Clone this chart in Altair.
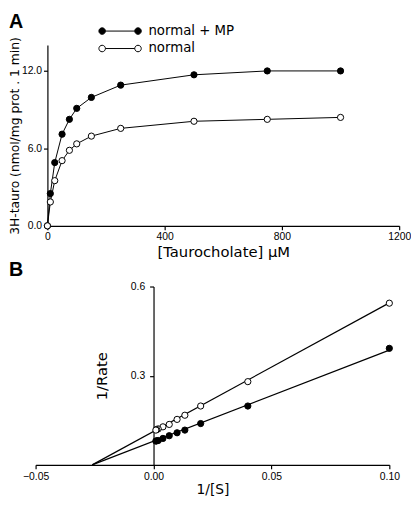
import altair as alt
import pandas as pd

# ---------------- data ----------------
series = ["normal + MP", "normal"]

conc = [0, 10, 25, 50, 75, 100, 150, 250, 500, 750, 1000]
rate_mp = [0.0, 2.5, 4.9, 7.1, 8.25, 9.1, 9.95, 10.9, 11.7, 12.0, 12.0]
rate_normal = [0.0, 1.85, 3.5, 5.05, 5.85, 6.35, 6.95, 7.55, 8.1, 8.25, 8.4]

inv_s = [0.1, 0.04, 0.02, 0.0133, 0.01, 0.00667, 0.004, 0.002, 0.00133, 0.001]
inv_rate_mp = [0.392, 0.198, 0.139, 0.117, 0.108, 0.098, 0.089, 0.082, 0.081, 0.080]
inv_rate_normal = [0.544, 0.28, 0.198, 0.167, 0.153, 0.136, 0.128, 0.121, 0.119, 0.117]

fit_x = [-0.026, 0.10]
fit_mp = [0.0, 0.386]
fit_normal = [0.0, 0.545]

a_x_ticks = [0, 400, 800, 1200]
a_y_ticks = [0, 6, 12]
b_x_ticks = [-0.05, 0.0, 0.05, 0.10]
b_y_ticks = [0.3, 0.6]

# ---------------- tables ----------------
dfA = pd.DataFrame({
    "conc": conc * 2,
    "rate": rate_mp + rate_normal,
    "series": [series[0]] * len(conc) + [series[1]] * len(conc),
})
dfB = pd.DataFrame({
    "invs": inv_s * 2,
    "invr": inv_rate_mp + inv_rate_normal,
    "series": [series[0]] * len(inv_s) + [series[1]] * len(inv_s),
})
dfFit = pd.DataFrame({
    "invs": fit_x * 2,
    "invr": fit_mp + fit_normal,
    "series": [series[0]] * 2 + [series[1]] * 2,
})

LBL = "Liberation Sans"
TTL = "DejaVu Sans"

# legend symbol: circle - line - circle
PATH = ("M-5.375,0A0.825,0.825,0,1,0,-3.725,0A0.825,0.825,0,1,0,-5.375,0Z"
        "M-3.725,0L3.725,0"
        "M3.725,0A0.825,0.825,0,1,0,5.375,0A0.825,0.825,0,1,0,3.725,0Z")

fill_scale = alt.Scale(domain=series, range=["black", "white"])

# ---------------- panel A ----------------
xA = alt.X("conc:Q", scale=alt.Scale(domain=[0, 1200], nice=False),
           axis=alt.Axis(values=a_x_ticks, format="d", title="[Taurocholate] µM",
                         titleFont=TTL, titleFontSize=15, titleFontWeight="normal",
                         titlePadding=3, labelFont=LBL, labelFontSize=10.5,
                         labelPadding=2, tickSize=4, labelFlush=False))
yA = alt.Y("rate:Q", scale=alt.Scale(domain=[0, 14], nice=False),
           axis=alt.Axis(values=a_y_ticks, format=".1f",
                         title="3H-tauro (nmol/mg prot . 1 min)",
                         titleFont=TTL, titleFontSize=12.5, titleFontWeight="normal",
                         titlePadding=0, labelFont=LBL, labelFontSize=10.5,
                         labelPadding=2, tickSize=4, labelFlush=False))

lineA = alt.Chart(dfA).mark_line(color="black", strokeWidth=1).encode(
    x=xA, y=yA, detail="series:N")
ptsA = alt.Chart(dfA).mark_point(shape="circle", size=40, stroke="black",
                                 strokeWidth=1, opacity=1, fillOpacity=1).encode(
    x=xA, y=yA,
    fill=alt.Fill("series:N", scale=fill_scale, sort=series,
                  legend=alt.Legend(title=None, orient="none", legendX=50, legendY=-21,
                                    symbolType=PATH, symbolSize=64, symbolOffset=17,
                                    symbolStrokeColor="black", symbolStrokeWidth=1,
                                    labelFont=TTL, labelFontSize=13.5, labelOffset=22,
                                    rowPadding=2.7, padding=0, labelColor="black")))

chartA = alt.layer(lineA, ptsA).properties(
    width=357, height=183.4,
    title=alt.TitleParams("A", anchor="start", frame="group", font=LBL, fontSize=20,
                          fontWeight="bold", dx=-39, offset=4.5, color="black"))

# ---------------- panel B ----------------
xB = alt.X("invs:Q", scale=alt.Scale(domain=[-0.05, 0.10], range=[-12, 347], nice=False),
           axis=alt.Axis(values=b_x_ticks, format=".2f", title="1/[S]",
                         titleFont=TTL, titleFontSize=14, titleFontWeight="normal",
                         titlePadding=1, labelFont=LBL, labelFontSize=10.5,
                         labelPadding=3, tickSize=4, labelFlush=False))
yB = alt.Y("invr:Q", scale=alt.Scale(domain=[0, 0.6], nice=False),
           axis=alt.Axis(values=b_y_ticks, format=".1f", title="1/Rate", offset=-107.7,
                         titleFont=TTL, titleFontSize=15, titleFontWeight="normal",
                         titlePadding=21, labelFont=LBL, labelFontSize=10.5,
                         labelPadding=5, tickSize=4, labelFlush=False))

fitB = alt.Chart(dfFit).mark_line(color="black", strokeWidth=1.2).encode(
    x=xB, y=yB, detail="series:N")
ptsB = alt.Chart(dfB).mark_point(shape="circle", size=40, stroke="black",
                                 strokeWidth=1, opacity=1, fillOpacity=1).encode(
    x=xB, y=yB, fill=alt.Fill("series:N", scale=fill_scale, legend=None))

chartB = alt.layer(fitB, ptsB).properties(
    width=347, height=181,
    title=alt.TitleParams("B", anchor="start", frame="group", font=LBL, fontSize=20,
                          fontWeight="bold", dx=-39, offset=2, color="black"))

chart = alt.concat(chartA, chartB, columns=1, spacing=0, align="none").properties(
    padding=0
).configure_view(
    stroke=None
).configure_axis(
    grid=False, domainColor="black", tickColor="black", labelColor="black",
    titleColor="black", domainWidth=1.2, tickWidth=1.2
).resolve_scale(fill="shared")

chart.save("out.html", embed_options={"renderer": "svg", "actions": False})
